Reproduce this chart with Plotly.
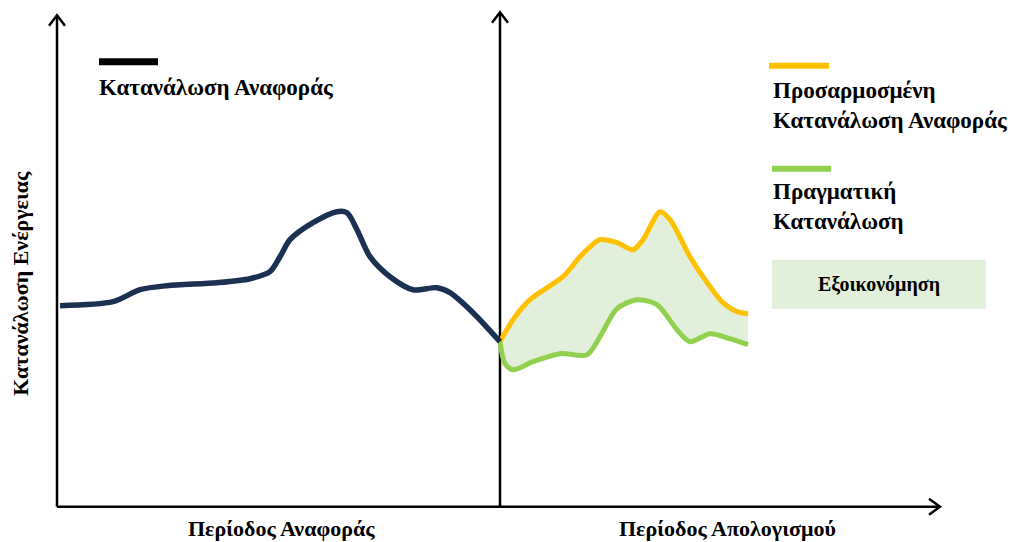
import plotly.graph_objects as go

# ---- data (time units from the left axis, consumption units above the time axis) ----
base_t = [3, 56, 83, 110, 160, 193, 213, 223, 233, 256, 280, 290, 300, 313, 333, 356, 380, 393, 416, 443]
base_e = [201, 205, 217, 221, 224, 228, 235, 250, 267, 284, 295, 294, 277, 250, 230, 217, 219, 214, 194, 165]

adj_t = [443, 456, 473, 506, 523, 543, 560, 576, 586, 603, 613, 633, 646, 666, 680, 691]
adj_e = [165, 187, 207, 230, 250, 267, 264, 257, 267, 295, 287, 250, 230, 204, 195, 193]

act_t = [443, 448, 456, 476, 503, 530, 543, 560, 580, 600, 620, 633, 653, 673, 691]
act_e = [165, 143, 137, 145, 153, 152, 170, 198, 207, 202, 177, 165, 173, 168, 162]

# ---- labels ----
lbl_base = "Κατανάλωση Αναφοράς"
lbl_adj = "Προσαρμοσμένη<br>Κατανάλωση Αναφοράς"
lbl_act = "Πραγματική<br>Κατανάλωση"
lbl_sav = "Εξοικονόμηση"
lbl_y = "Κατανάλωση Ενέργειας"
lbl_p1 = "Περίοδος Αναφοράς"
lbl_p2 = "Περίοδος Απολογισμού"

NAVY = "#1c3052"
ORANGE = "#FFC000"
GREEN = "#92D050"
FILL = "#E2EFDA"
FONT = "Liberation Serif"

fig = go.Figure()
fig.add_trace(go.Scatter(x=adj_t, y=adj_e, mode="lines",
                         line=dict(color=ORANGE, width=5, shape="spline", smoothing=0.8),
                         hoverinfo="skip", showlegend=False))
fig.add_trace(go.Scatter(x=act_t, y=act_e, mode="lines", fill="tonexty", fillcolor=FILL,
                         line=dict(color=GREEN, width=5, shape="spline", smoothing=0.8),
                         hoverinfo="skip", showlegend=False))
fig.add_trace(go.Scatter(x=base_t, y=base_e, mode="lines",
                         line=dict(color=NAVY, width=5.5, shape="spline", smoothing=0.8),
                         hoverinfo="skip", showlegend=False))

shapes = []
ax = dict(type="line", line=dict(color="black", width=2.5), layer="below")
shapes.append(dict(ax, x0=0, y0=0, x1=0, y1=491))
shapes.append(dict(ax, x0=443, y0=0, x1=443, y1=494))
shapes.append(dict(ax, x0=0, y0=0, x1=882, y1=0))
arr = dict(type="path", line=dict(color="black", width=2.5))
shapes.append(dict(arr, path="M -8,481 L 0,491.5 L 8,481"))
shapes.append(dict(arr, path="M 435,484 L 443,494.5 L 451,484"))
shapes.append(dict(arr, path="M 872,-8 L 883,0 L 872,8"))
# legend swatches
shapes.append(dict(type="line", x0=42, x1=101, y0=445, y1=445, line=dict(color="black", width=7)))
shapes.append(dict(type="line", x0=712, x1=772, y0=441, y1=441, line=dict(color=ORANGE, width=6)))
shapes.append(dict(type="line", x0=715, x1=774, y0=338, y1=338, line=dict(color=GREEN, width=6)))
shapes.append(dict(type="rect", x0=715, x1=929, y0=198, y1=247, fillcolor=FILL, line=dict(width=0), layer="below"))

ann = []
def txt(s, x, y, size, xanchor="left", yanchor="middle", angle=0, align="left"):
    ann.append(dict(text="<b>" + s + "</b>", x=x, y=y, xref="x", yref="y", showarrow=False,
                    xanchor=xanchor, yanchor=yanchor, textangle=angle, align=align,
                    font=dict(family=FONT, size=size, color="black")))

txt(lbl_base, 40, 419, 23)
txt(lbl_adj, 714, 401, 23)
txt(lbl_act, 714, 300, 23)
txt(lbl_sav, 822, 222, 20, xanchor="center")
txt(lbl_y, -36, 223, 22, xanchor="center", angle=-90)
txt(lbl_p1, 224, -21.5, 22, xanchor="center")
txt(lbl_p2, 670, -21.5, 22, xanchor="center")

fig.update_layout(
    width=1013, height=542, margin=dict(l=0, r=0, t=0, b=0),
    paper_bgcolor="white", plot_bgcolor="white",
    xaxis=dict(range=[-57, 956], visible=False, fixedrange=True),
    yaxis=dict(range=[-35.3, 506.7], visible=False, fixedrange=True),
    shapes=shapes, annotations=ann,
)
fig.write_html("out.html")
